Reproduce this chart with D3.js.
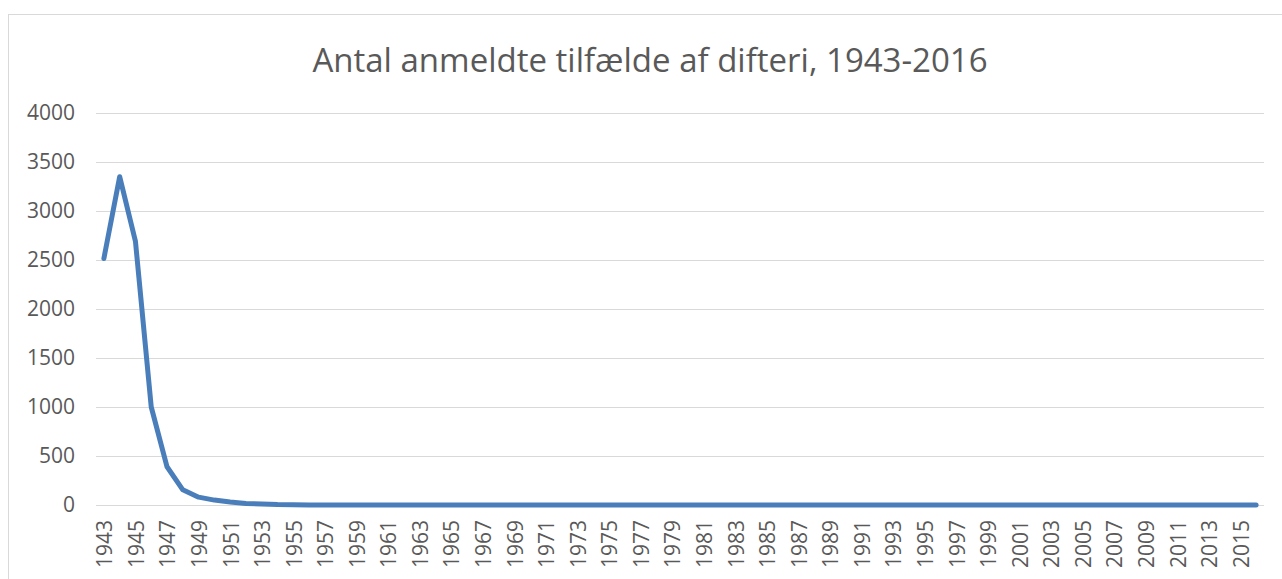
<!DOCTYPE html>
<html>
<head>
<meta charset="utf-8">
<script src="https://cdnjs.cloudflare.com/ajax/libs/d3/7.8.5/d3.min.js"></script>
<style>
  body { margin: 0; background: #fff; }
  svg { display: block; }
</style>
</head>
<body>
<svg id="chart"></svg>
<script>
// years 1943-2016
var years = d3.range(1943, 2017);

// reported cases (later years ~0)
var cases = [2516, 3350, 2690, 1000, 390, 155, 80, 50, 30, 15, 10, 4, 2, 1,
  0, 0, 0, 0, 0, 0, 0, 0, 0, 0, 0, 0, 0, 0, 0, 0, 0, 0, 0, 0, 0, 0, 0, 0,
  0, 0, 0, 0, 0, 0, 0, 0, 0, 0, 0, 0, 0, 0, 0, 0, 0, 0, 0, 0, 0, 0, 0, 0,
  0, 0, 0, 0, 0, 0, 0, 0, 0, 0, 0, 0];

var yTicks = [0, 500, 1000, 1500, 2000, 2500, 3000, 3500, 4000];

var titleText = "Antal anmeldte tilfælde af difteri, 1943-2016";

var screen = {width: 1282, height: 579};
var margins = {top: 113, bottom: 74, left: 96, right: 18};
var textColor = "#595959";
var gridColor = "#d9d9d9";
var font = "'Open Sans', sans-serif";

var svg = d3.select("#chart")
    .attr("width", screen.width)
    .attr("height", screen.height);

// chart frame
svg.append("rect")
    .attr("x", 8.5).attr("y", 14.5)
    .attr("width", screen.width + 10).attr("height", screen.height + 10)
    .attr("fill", "none")
    .attr("stroke", gridColor)
    .attr("stroke-width", 1);

var xScale = d3.scaleBand()
    .domain(years)
    .range([margins.left, screen.width - margins.right]);

var yScale = d3.scaleLinear()
    .domain([0, 4000])
    .range([screen.height - margins.bottom, margins.top]);

var cx = function(yr) { return xScale(yr) + xScale.bandwidth() / 2; };

// gridlines
svg.append("g")
    .selectAll("line")
    .data(yTicks)
    .enter()
    .append("line")
    .attr("x1", margins.left)
    .attr("x2", screen.width - margins.right)
    .attr("y1", function(d) { return Math.round(yScale(d)) + 0.5; })
    .attr("y2", function(d) { return Math.round(yScale(d)) + 0.5; })
    .attr("stroke", gridColor)
    .attr("stroke-width", 1);

// y labels
svg.append("g")
    .selectAll("text")
    .data(yTicks)
    .enter()
    .append("text")
    .attr("x", 75)
    .attr("y", function(d) { return yScale(d); })
    .attr("dy", "0.35em")
    .attr("text-anchor", "end")
    .attr("font-family", font)
    .attr("font-size", 21)
    .attr("fill", textColor)
    .text(function(d) { return d; });

// x labels, every other year
svg.append("g")
    .selectAll("text")
    .data(years.filter(function(d, i) { return i % 2 == 0; }))
    .enter()
    .append("text")
    .attr("transform", function(d) { return "translate(" + (cx(d) + 1) + ",520) rotate(-90)"; })
    .attr("dy", "0.35em")
    .attr("text-anchor", "end")
    .attr("font-family", font)
    .attr("font-size", 21)
    .attr("fill", textColor)
    .text(function(d) { return d; });

// the line
var line = d3.line()
    .x(function(d, i) { return cx(years[i]); })
    .y(function(d) { return yScale(d); });

svg.append("path")
    .datum(cases)
    .attr("d", line)
    .attr("fill", "none")
    .attr("stroke", "#4a7ebb")
    .attr("stroke-width", 5)
    .attr("stroke-linejoin", "round")
    .attr("stroke-linecap", "round");

// title
svg.append("text")
    .attr("x", 650)
    .attr("y", 72)
    .attr("text-anchor", "middle")
    .attr("font-family", font)
    .attr("font-size", 33)
    .attr("fill", textColor)
    .text(titleText);
</script>
</body>
</html>
